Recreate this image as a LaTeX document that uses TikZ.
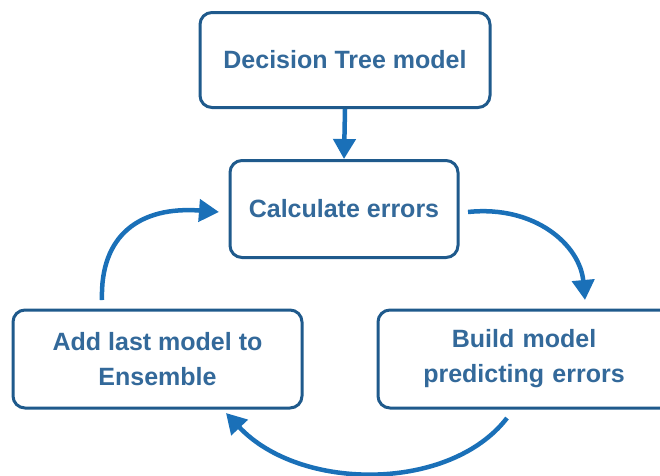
\documentclass[tikz,border=0pt]{standalone}
\usepackage{fontspec}
\setmainfont{Liberation Sans}
\usetikzlibrary{arrows.meta}
\definecolor{boxline}{HTML}{1F5A8C}
\definecolor{boxtext}{HTML}{33699A}
\definecolor{arrowc}{HTML}{1A70B8}
\tikzset{
  stepbox/.style={draw=boxline, line width=3pt, rounded corners=12pt, fill=white,
    align=center, text=boxtext, font=\bfseries\fontsize{25}{35}\selectfont,
    inner sep=0pt},
  flow/.style={draw=arrowc, line width=4.5pt, -{Triangle[length=20pt,width=22pt]}}
}
\begin{document}
\begin{tikzpicture}[x=1pt,y=-1pt]
\useasboundingbox (0,0) rectangle (660,475);
\clip (0,0) rectangle (660,475);
\node[stepbox, minimum width=290pt, minimum height=95pt] (tree) at (345,60) {Decision Tree model};
\node[stepbox, minimum width=228pt, minimum height=97pt] (calc) at (344,209) {Calculate errors};
\node[stepbox, minimum width=289pt, minimum height=98pt] (add) at (157.5,359) {Add last model to\\Ensemble};
\node[stepbox, minimum width=300pt, minimum height=98pt, text width=300pt] (build) at (528,359) {\hspace*{-8pt}Build model\\\hspace*{-8pt}predicting errors};
\draw[flow] (tree.south) -- (calc.north);
\coordinate (c1) at (468,212);
\coordinate (c2) at (585,300);
\draw[flow] (c1) .. controls (535,205) and (580,245) .. (c2);
\coordinate (b1) at (507,418);
\coordinate (b2) at (226,413);
\draw[flow] (b1) .. controls (450,492) and (300,492) .. (b2);
\coordinate (a1) at (102,300);
\coordinate (a2) at (219,212);
\draw[flow] (a1) .. controls (100,235) and (140,206) .. (a2);
\end{tikzpicture}
\end{document}
